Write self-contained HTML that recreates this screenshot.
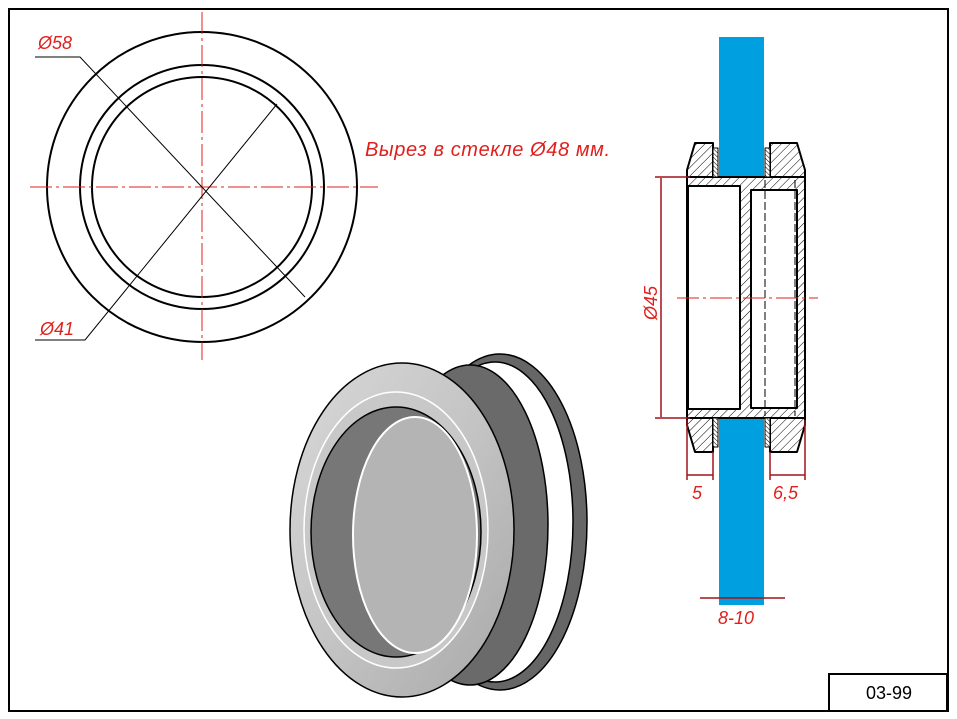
<!DOCTYPE html>
<html><head><meta charset="utf-8"><style>
body{margin:0;background:#fff}
svg{display:block}
text{font-family:"Liberation Sans",sans-serif;font-style:italic;fill:#e0201c}
</style></head><body>
<svg width="957" height="719" viewBox="0 0 957 719" xmlns="http://www.w3.org/2000/svg">
<defs>
<pattern id="h" width="6" height="6" patternUnits="userSpaceOnUse" patternTransform="rotate(45)">
<rect width="6" height="6" fill="#fff"/><line x1="0" y1="0" x2="0" y2="6" stroke="#000" stroke-width="1"/></pattern>
<pattern id="h2" width="3" height="3" patternUnits="userSpaceOnUse" patternTransform="rotate(-45)">
<rect width="3" height="3" fill="#fff"/><line x1="0" y1="0" x2="0" y2="3" stroke="#000" stroke-width="1"/></pattern>
<linearGradient id="g1" x1="0" y1="0" x2="1" y2="1">
<stop offset="0" stop-color="#d8d8d8"/><stop offset="0.5" stop-color="#c4c4c4"/><stop offset="1" stop-color="#a8a8a8"/></linearGradient>
</defs>
<rect x="9" y="9" width="939" height="702" fill="none" stroke="#000" stroke-width="2"/>
<rect x="829" y="674" width="118" height="37" fill="#fff" stroke="#000" stroke-width="2"/>
<text x="866" y="699" style="font-style:normal;fill:#000;font-size:18px">03-99</text>

<g fill="none" stroke="#000" stroke-width="2">
<circle cx="202" cy="187" r="155"/>
<circle cx="202" cy="187" r="122"/>
<circle cx="202" cy="187" r="110"/>
</g>
<g stroke="#e0201c" stroke-width="1" stroke-dasharray="22,4,3,4">
<line x1="30" y1="187" x2="378" y2="187"/>
<line x1="202" y1="12" x2="202" y2="360"/>
</g>
<g stroke="#000" stroke-width="1">
<polyline points="35,57 80,57 305,297" fill="none"/>
<polyline points="35,340 85,340 277,104" fill="none"/>
</g>
<text x="38" y="49" font-size="18">Ø58</text>
<text x="40" y="335" font-size="18">Ø41</text>
<text x="365" y="156" font-size="20" textLength="245">Вырез в стекле Ø48 мм.</text>

<rect x="719" y="37" width="45" height="568" fill="#00a0e0"/>

<g stroke="#000" stroke-width="2" stroke-linejoin="round">
<polygon points="687,177 805,177 805,418 687,418" fill="url(#h)"/>
<rect x="688" y="186" width="52" height="223" fill="#fff"/>
<rect x="751" y="190" width="46" height="218" fill="#fff"/>
<polygon points="695,143 713,143 713,177 687,177 687,170" fill="url(#h)"/>
<polygon points="770,143 797,143 805,170 805,177 770,177" fill="url(#h)"/>
<polygon points="687,418 713,418 713,452 695,452 687,425" fill="url(#h)"/>
<polygon points="770,418 805,418 805,425 797,452 770,452" fill="url(#h)"/>
<rect x="713" y="148" width="5" height="29" fill="url(#h2)" stroke-width="1"/>
<rect x="765" y="148" width="5" height="29" fill="url(#h2)" stroke-width="1"/>
<rect x="713" y="418" width="5" height="29" fill="url(#h2)" stroke-width="1"/>
<rect x="765" y="418" width="5" height="29" fill="url(#h2)" stroke-width="1"/>
</g>
<g stroke="#000" stroke-width="1" stroke-dasharray="8,3" fill="none">
<line x1="765" y1="180" x2="765" y2="416"/><line x1="795" y1="180" x2="795" y2="416"/>
</g>
<g stroke="#e0201c" stroke-width="1" stroke-dasharray="22,4,3,4">
<line x1="677" y1="298" x2="818" y2="298"/>
</g>
<g stroke="#a0141a" stroke-width="1.5">
<line x1="655" y1="177" x2="690" y2="177"/><line x1="655" y1="418" x2="690" y2="418"/>
<line x1="661" y1="178" x2="661" y2="417"/>
<line x1="687" y1="420" x2="687" y2="480"/><line x1="713" y1="452" x2="713" y2="480"/>
<line x1="770" y1="452" x2="770" y2="480"/><line x1="805" y1="420" x2="805" y2="480"/>
<line x1="687" y1="475" x2="713" y2="475"/><line x1="770" y1="475" x2="805" y2="475"/>
<line x1="700" y1="598" x2="785" y2="598"/>
</g>
<text transform="translate(657,320) rotate(-90)" font-size="18">Ø45</text>
<text x="692" y="499" font-size="18">5</text>
<text x="773" y="499" font-size="18">6,5</text>
<text x="718" y="624" font-size="18">8-10</text>

<g stroke="#000" stroke-width="1.5">
<ellipse cx="500" cy="522" rx="87" ry="168" fill="#666"/>
<ellipse cx="495" cy="522" rx="78" ry="160" fill="#fff"/>
<ellipse cx="470" cy="525" rx="78" ry="160" fill="#6a6a6a"/>
<ellipse cx="402" cy="530" rx="112" ry="167" fill="url(#g1)"/>
<ellipse cx="396" cy="530" rx="92" ry="138" fill="#c8c8c8" stroke="#fff"/>
<ellipse cx="396" cy="532" rx="85" ry="125" fill="#777"/>
<ellipse cx="415" cy="535" rx="62" ry="118" fill="#b4b4b4" stroke="#fff" stroke-width="2"/>
</g>
</svg>
</body></html>
